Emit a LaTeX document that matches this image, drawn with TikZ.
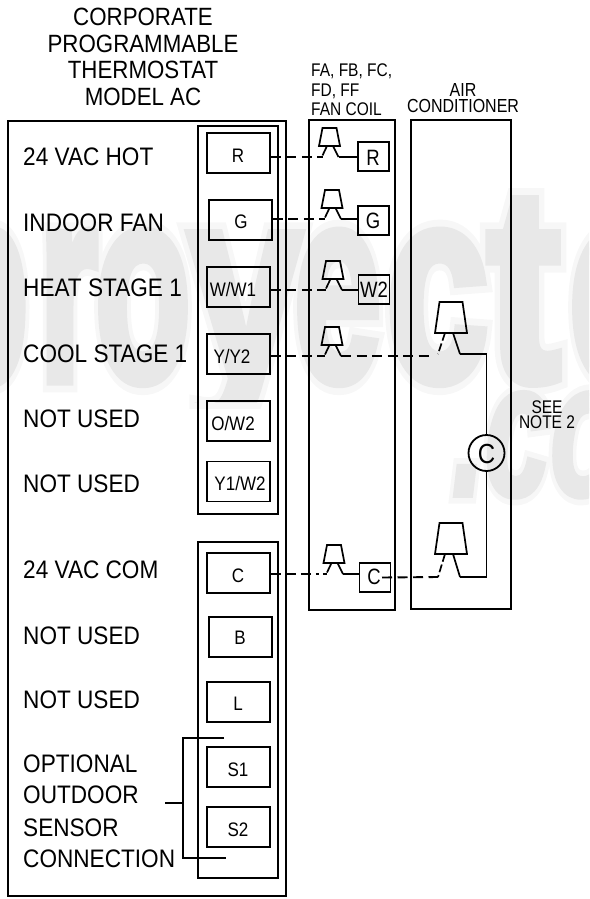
\documentclass[tikz,border=0pt]{standalone}
\usepackage{fontspec}
\setmainfont{Liberation Sans}
\newfontfamily\wmfont[FakeBold=4]{Liberation Sans Bold}
\newfontfamily\wmhalo[FakeBold=9]{Liberation Sans Bold}
\newfontfamily\wmit[FakeBold=3]{Liberation Sans Bold Italic}
\newfontfamily\wmithalo[FakeBold=9]{Liberation Sans Bold Italic}
\definecolor{wmc}{HTML}{E8E8E8}
\definecolor{wmh}{HTML}{F7F7F7}
\tikzset{
  box/.style={draw=black,line width=1.8pt},
  term/.style={draw=black,line width=1.8pt,inner sep=0pt,minimum width=63pt,minimum height=40pt},
  fterm/.style={draw=black,line width=1.8pt,inner sep=0pt,minimum width=31pt,minimum height=29pt},
  lab/.style={anchor=base west,inner sep=0pt,font=\fontsize{22.6}{26}\selectfont,yscale=1.12},
  ttl/.style={anchor=base,inner sep=0pt,font=\fontsize{22.3}{26}\selectfont,yscale=1.12},
  tt/.style={anchor=base,inner sep=0pt,font=\fontsize{17}{20}\selectfont,yscale=1.15},
  ft/.style={anchor=base,inner sep=0pt,font=\fontsize{18.5}{22}\selectfont,yscale=1.2},
  hd/.style={inner sep=0pt,yscale=1.18},
  wire/.style={draw=black,line width=1.9pt},
  dwire/.style={draw=black,line width=1.9pt,dash pattern=on 10pt off 5.5pt},
  relayline/.style={draw=black,line width=1.7pt,line join=miter},
  wmh1/.style={anchor=base west,inner sep=0pt,text=wmh,font=\wmhalo\fontsize{275}{275}\selectfont},
  wmc1/.style={anchor=base west,inner sep=0pt,text=wmc,font=\wmfont\fontsize{275}{275}\selectfont},
}
% small relay: name, centre x, top y
\newcommand\relaysmall[3]{%
  \begin{scope}[shift={(#2,#3)}]
    \draw[relayline] (-7,0) -- (7,0) -- (10.5,18) -- (-10.5,18) -- cycle;
    \draw[relayline] (-2.5,18) -- (-7,27.5) coordinate (#1l);
    \draw[relayline] (3.5,18) -- (9,29) coordinate (#1r);
  \end{scope}}
% large relay: name, centre x, top y, leg drop
\newcommand\relaybig[4]{%
  \begin{scope}[shift={(#2,#3)}]
    \draw[relayline] (-11.5,0) -- (11.5,0) -- (16,31) -- (-16,31) -- cycle;
    \draw[relayline,dash pattern=on 8pt off 3pt] (-6,31) -- (-13,#4) coordinate (#1l);
    \draw[relayline] (2,31) -- (9,#4) coordinate (#1r);
  \end{scope}}
% watermark letters: style, name prefix
\newcommand\wmletters[2]{%
  \node[#1,xscale=.57] (#2a) at (-67,380) {p};
  \node[#1,xscale=.55] (#2b) at (39,380) {r};
  \node[#1,xscale=.57] (#2c) at (95,380) {o};
  \node[#1,xscale=.74] (#2d) at (188,380) {y};
  \node[#1,xscale=.57] (#2e) at (294,380) {e};
  \node[#1,xscale=.67] (#2f) at (386,380) {c};
  \node[#1,xscale=.80] (#2g) at (487,380) {t};
  \node[#1,xscale=.57] (#2h) at (569,380) {o};}
\begin{document}
\begin{tikzpicture}[x=1pt,y=-1pt]
\useasboundingbox (0,0) rectangle (589,899);
\begin{scope}
\clip (0,0) rectangle (589,408);
\wmletters{wmh1}{h}
\end{scope}
\begin{scope}
\clip (0,0) rectangle (589,899);
\node[anchor=base west,inner sep=0pt,text=wmh,font=\wmithalo\fontsize{190}{190}\selectfont,xscale=.62] (wm2h) at (452,495) {.com};
\node[anchor=base west,inner sep=0pt,text=wmc,font=\wmit\fontsize{190}{190}\selectfont,xscale=.62] (wm2) at (452,495) {.com};
\end{scope}
\begin{scope}
\clip (0,0) rectangle (589,402);
\wmletters{wmc1}{c}
\end{scope}

% titles
\node[ttl] (t1) at (143,26) {CORPORATE};
\node[ttl] (t2) at (143,52.5) {PROGRAMMABLE};
\node[ttl] (t3) at (143,78.5) {THERMOSTAT};
\node[ttl] (t4) at (143,105) {MODEL AC};
\node[hd,anchor=base west,font=\fontsize{15.5}{17}\selectfont] (f1) at (311,77) {FA, FB, FC,};
\node[hd,anchor=base west,font=\fontsize{15.5}{17}\selectfont] (f2) at (311,96) {FD, FF};
\node[hd,anchor=base west,font=\fontsize{15.5}{17}\selectfont] (f3) at (311,115) {FAN COIL};
\node[hd,anchor=base,font=\fontsize{16}{17}\selectfont] (a1) at (463,96) {AIR};
\node[hd,anchor=base,font=\fontsize{16}{17}\selectfont] (a2) at (463,112) {CONDITIONER};
\node[hd,anchor=base,font=\fontsize{15.5}{17}\selectfont] (s1) at (547,413) {SEE};
\node[hd,anchor=base,font=\fontsize{15.5}{17}\selectfont] (s2) at (547,428) {NOTE 2};

% enclosures
\draw[box] (8,121) rectangle (286,896);
\draw[box] (198,126) rectangle (278,514);
\draw[box] (198,542) rectangle (278,878);
\draw[box] (309,120) rectangle (395,610);
\draw[box] (411,120) rectangle (511,609);

% left labels
\node[lab] (l1) at (23,165) {24 VAC HOT};
\node[lab] (l2) at (23,231) {INDOOR FAN};
\node[lab] (l3) at (23,296) {HEAT STAGE 1};
\node[lab] (l4) at (23,362) {COOL STAGE 1};
\node[lab] (l5) at (23,427) {NOT USED};
\node[lab] (l6) at (23,492) {NOT USED};
\node[lab] (l7) at (23,578) {24 VAC COM};
\node[lab] (l8) at (23,644) {NOT USED};
\node[lab] (l9) at (23,708) {NOT USED};
\node[lab] (l10) at (23,772) {OPTIONAL};
\node[lab] (l11) at (23,803) {OUTDOOR};
\node[lab] (l12) at (23,836) {SENSOR};
\node[lab] (l13) at (23,867) {CONNECTION};

% thermostat terminals
\node[term] (tR) at (238.5,153) {};
\node[term] (tG) at (240.5,220) {};
\node[term] (tW) at (238.5,287) {};
\node[term] (tY) at (238.5,354) {};
\node[term] (tO) at (238.5,421) {};
\node[term] (tYW) at (238.5,481.5) {};
\node[term] (tC) at (238.5,573) {};
\node[term] (tB) at (240.5,637) {};
\node[term] (tL) at (238.5,702) {};
\node[term] (tS1) at (238.5,767) {};
\node[term] (tS2) at (238.5,827) {};
\node[tt] (xR) at (238,162) {R};
\node[tt] (xG) at (241,228) {G};
\node[tt] (xW) at (233,296) {W/W1};
\node[tt] (xY) at (232,363) {Y/Y2};
\node[tt] (xO) at (233,430) {O/W2};
\node[tt] (xYW) at (240,490) {Y1/W2};
\node[tt] (xC) at (238,582) {C};
\node[tt] (xB) at (240,644) {B};
\node[tt] (xL) at (238,710) {L};
\node[tt] (xS1) at (238,776) {S1};
\node[tt] (xS2) at (238,836) {S2};

% fan coil terminals
\node[fterm] (fR) at (373.5,156.5) {};
\node[fterm] (fG) at (373.5,220.5) {};
\node[fterm] (fW) at (374,289.5) {};
\node[fterm] (fC) at (375,577.5) {};
\node[ft] (yR) at (373,165) {R};
\node[ft] (yG) at (373,228) {G};
\node[ft] (yW) at (374,297) {W2};
\node[ft] (yC) at (374,584) {C};

% relays
\relaysmall{rR}{329.5}{128}
\relaysmall{rG}{332}{190}
\relaysmall{rW}{333}{261}
\relaysmall{rY}{332}{327}
\relaysmall{rC}{334}{545}
\relaybig{bU}{451}{302}{52}
\relaybig{bL}{451}{523}{54}

% compressor
\node[draw=black,line width=1.8pt,circle,minimum size=36pt,inner sep=0pt] (comp) at (486.5,453) {};
\node[anchor=base,inner sep=0pt,font=\fontsize{24}{28}\selectfont,yscale=1.15] (compx) at (486.5,463) {C};

% wiring
\draw[dwire] (tR.east |- rRr) -- (rRl |- rRr);
\draw[dwire] (tG.east |- rGr) -- (rGl |- rGr);
\draw[dwire] (tW.east |- rWr) -- (rWl |- rWr);
\draw[dwire] (tY.east |- rYr) -- (rYl |- rYr);
\draw[dwire,dash pattern=on 10pt off 5pt on 10pt off 5pt on 10pt off 5pt on 3pt off 4pt] (tC.east |- rCr) -- (rCl |- rCr);
\draw[wire] (rRr) -- (fR.west |- rRr);
\draw[wire] (rGr) -- (fG.west |- rGr);
\draw[wire] (rWr) -- (fW.west |- rWr);
\draw[wire] (rCr) -- (fC.west |- rCr);
\draw[dwire,shorten >=9pt] (rYr) -- (bUl |- rYr);
\coordinate (fCw) at ([xshift=7pt]fC.center);
\draw[dwire] (fCw) -- (bLl);
\draw[wire] (bUr) -| (comp.north);
\draw[wire] (comp.south) |- (bLr);

% sensor bracket
\coordinate (brt) at (224,738);
\coordinate (brb) at (226,858);
\coordinate (brk) at (165,803);
\draw[wire] (brt) -- (183,738) -- (183,858) -- (brb);
\draw[wire] (brk) -- (183,803);
\end{tikzpicture}
\end{document}
